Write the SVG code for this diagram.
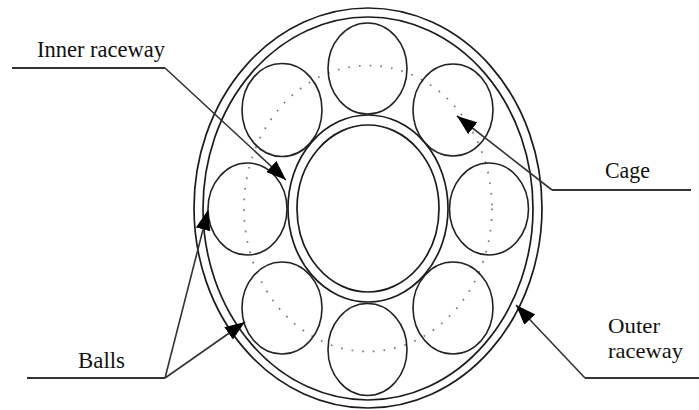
<svg xmlns="http://www.w3.org/2000/svg" width="699" height="410" viewBox="0 0 699 410">
<defs>
<marker id="arrow" markerUnits="userSpaceOnUse" markerWidth="22" markerHeight="16" refX="20" refY="8" orient="auto" viewBox="0 0 22 16"><path d="M0,0.500 L20,8 L0,15.500 Z" fill="#000"/></marker>
</defs>
<style>
.ring{fill:none;stroke:#1c1c1c;stroke-width:1.7}
.ball{fill:none;stroke:#222;stroke-width:1.6}
.cage{fill:none;stroke:#777;stroke-width:1.7;stroke-dasharray:1.7 9;}
.lead{fill:none;stroke:#333;stroke-width:1.6}
.shelf{fill:none;stroke:#333;stroke-width:2}
.label{font-family:"Liberation Serif","Times New Roman",serif;font-size:24px;fill:#111}
.label2{font-family:"Liberation Serif","Times New Roman",serif;font-size:21px;fill:#111}
</style>
<rect width="699" height="410" fill="#fff"/>
<g id="outer-raceway">
<ellipse class="ring" cx="368" cy="208" rx="174" ry="200"/>
<ellipse class="ring" cx="368" cy="208.500" rx="165" ry="191.500"/>
</g>
<g id="inner-raceway">
<ellipse class="ring" cx="368" cy="208.500" rx="80" ry="93.500"/>
<ellipse class="ring" cx="368" cy="208.500" rx="71" ry="83.500"/>
</g>
<g id="cage"><ellipse class="cage" cx="368" cy="208.500" rx="124" ry="143"/></g>
<g id="balls">
<ellipse class="ball" cx="367.500" cy="68.500" rx="39.500" ry="45.500"/>
<ellipse class="ball" cx="453" cy="110" rx="40" ry="46"/>
<ellipse class="ball" cx="489" cy="209" rx="39.500" ry="46"/>
<ellipse class="ball" cx="453" cy="308" rx="40" ry="46"/>
<ellipse class="ball" cx="367.500" cy="349.500" rx="39.500" ry="46"/>
<ellipse class="ball" cx="282" cy="308" rx="40" ry="46"/>
<ellipse class="ball" cx="247.500" cy="209" rx="39.500" ry="46"/>
<ellipse class="ball" cx="282" cy="110" rx="40" ry="46.500"/>
</g>
<g id="connectors">
<path class="shelf" d="M12,68 H165"/>
<path class="lead" d="M165,68 L286,180" marker-end="url(#arrow)"/>
<path class="shelf" d="M552,190 H691"/>
<path class="lead" d="M552,190 L457,116" marker-end="url(#arrow)"/>
<path class="shelf" d="M27,378 H165"/>
<path class="lead" d="M165,378 L208,210" marker-end="url(#arrow)"/>
<path class="lead" d="M165,378 L245,322" marker-end="url(#arrow)"/>
<path class="shelf" d="M585,378 H699"/>
<path class="lead" d="M585,378 L516,305" marker-end="url(#arrow)"/>
</g>
<g id="labels">
<text class="label" x="37" y="57" textLength="128" lengthAdjust="spacingAndGlyphs">Inner raceway</text>
<text class="label" x="605" y="178" textLength="45" lengthAdjust="spacingAndGlyphs">Cage</text>
<text class="label" x="78" y="368" textLength="47" lengthAdjust="spacingAndGlyphs">Balls</text>
<text class="label2" x="608" y="333" textLength="52" lengthAdjust="spacingAndGlyphs">Outer</text>
<text class="label2" x="608" y="357.500" textLength="75" lengthAdjust="spacingAndGlyphs">raceway</text>
</g>
</svg>
